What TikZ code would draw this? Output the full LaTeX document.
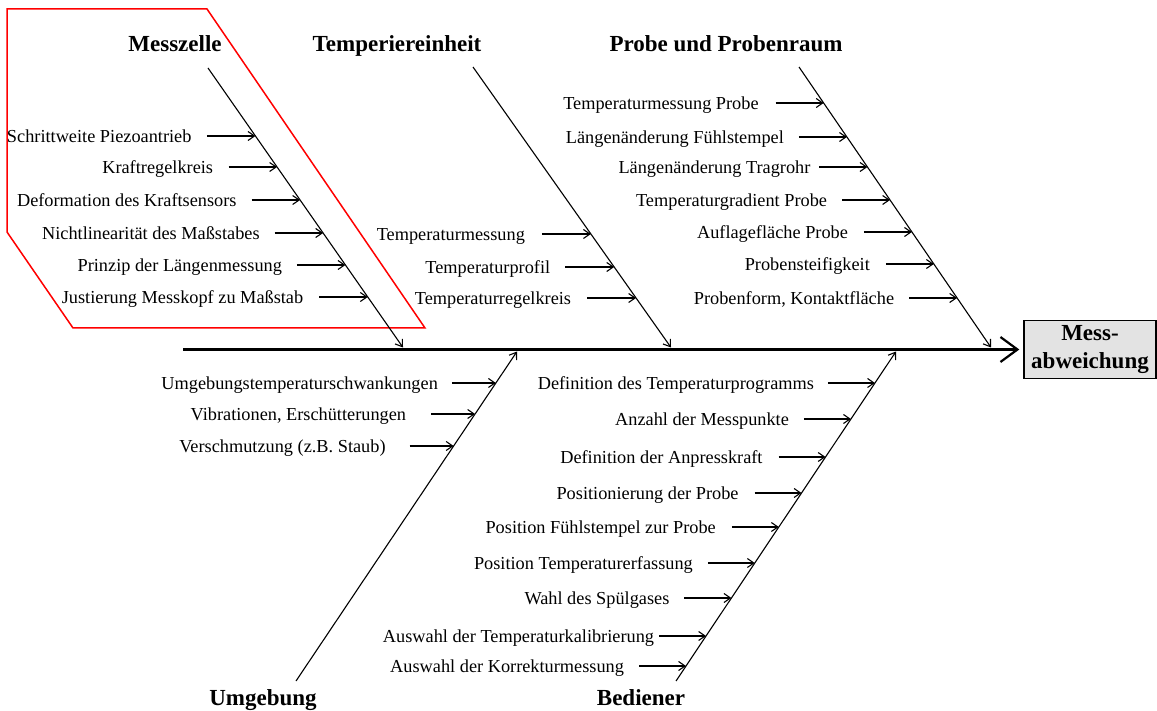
\documentclass[tikz,border=0pt]{standalone}
\usepackage{fontspec}
\setmainfont{Liberation Serif}
\usetikzlibrary{arrows.meta,intersections}

% causes along one branch: path name, arrow length, list of name/y/gap/text
\newcommand\fishcauses[3]{%
  \foreach \nm/\yy/\gp/\txt in {#3}{%
    \path[name path=hline] (0,\yy) -- (1157,\yy);
    \path[name intersections={of=#1 and hline, by={e\nm}}];
    \node[item, outer xsep=\gp pt] (\nm) at ([xshift=-#2 pt]e\nm) {\txt};
    \draw[cause] (\nm.east) -- (e\nm);
  }}

\begin{document}
\begin{tikzpicture}[x=1pt,y=-1pt,
  item/.style={font=\fontsize{18.3}{20}\selectfont, inner xsep=0pt, inner ysep=0pt,
    text height=14pt, text depth=1pt, anchor=east},
  head/.style={font=\fontsize{23}{28}\selectfont\bfseries, inner sep=0pt, anchor=base},
  cause/.style={line width=1.1pt, -{Straight Barb[length=6.5pt,width=9pt]}},
  branch/.style={line width=1.1pt, -{Straight Barb[length=6.5pt,width=9pt]}},
  spine/.style={line width=2.2pt, -{Straight Barb[length=17pt,width=25pt]}, shorten >=4pt},
  frame/.style={draw=red, line width=1.5pt, line join=miter},
  effect/.style={draw=black, line width=1.4pt, fill=black!11, minimum width=132pt,
    minimum height=58pt, align=center, inner sep=0pt,
    font=\fontsize{23}{28}\selectfont\bfseries},
]
\useasboundingbox (0,0) rectangle (1157,711);

% highlighted region around the measuring cell
\draw[frame] (7,9) -- (207,9) -- (425,328) -- (73,328) -- (7,232) -- cycle;

% effect box and main spine
\node[effect] (box) at (1090,349.5) {Mess-\\abweichung};
\coordinate (sp) at (183,349.5);
\draw[spine] (sp) -- (box.west);

% category headings
\node[head] (hMz) at (175,52) {Messzelle};
\node[head] (hTe) at (397,52) {Temperiereinheit};
\node[head] (hPr) at (726,52) {Probe und Probenraum};
\node[head] (hUm) at (263,705) {Umgebung};
\node[head] (hBe) at (641,705) {Bediener};

% branches
\coordinate (mzT) at (208,68);  \coordinate (mzE) at (403,347.5);
\coordinate (teT) at (473,67);  \coordinate (teE) at (671,347.5);
\coordinate (prT) at (799,67);  \coordinate (prE) at (991,347.5);
\coordinate (umT) at (296,681); \coordinate (umE) at (517,351.5);
\coordinate (beT) at (676,681); \coordinate (beE) at (896,351.5);
\draw[branch, name path=mz] (mzT) -- (mzE);
\draw[branch, name path=te] (teT) -- (teE);
\draw[branch, name path=pr] (prT) -- (prE);
\draw[branch, name path=um] (umT) -- (umE);
\draw[branch, name path=be] (beT) -- (beE);

% causes
\fishcauses{mz}{48.5}{%
  m1/136/15.5/Schrittweite Piezoantrieb,
  m2/167/15.5/Kraftregelkreis,
  m3/200/15/Deformation des Kraftsensors,
  m4/233/15/Nichtlinearität des Maßstabes,
  m5/265/15/Prinzip der Längenmessung,
  m6/297/16/Justierung Messkopf zu Maßstab}

\fishcauses{te}{49}{%
  t1/234/17/Temperaturmessung,
  t2/267/15/Temperaturprofil,
  t3/298/16/Temperaturregelkreis}

\fishcauses{pr}{48}{%
  p1/103/17/Temperaturmessung Probe,
  p2/137/15/Längenänderung Fühlstempel,
  p3/167/9/Längenänderung Tragrohr,
  p4/200/15/Temperaturgradient Probe,
  p5/232/16/Auflagefläche Probe,
  p6/264/16/Probensteifigkeit,
  p7/298/15/{Probenform, Kontaktfläche}}

\fishcauses{um}{44}{%
  u1/383/14/Umgebungstemperaturschwankungen,
  u2/414/25/{Vibrationen, Erschütterungen},
  u3/446/24/Verschmutzung (z.B. Staub)}

\fishcauses{be}{47}{%
  b1/383/14/Definition des Temperaturprogramms,
  b2/419/15/Anzahl der Messpunkte,
  b3/457/16/Definition der Anpresskraft,
  b4/493/16/Positionierung der Probe,
  b5/527/16/Position Fühlstempel zur Probe,
  b6/563/15/Position Temperaturerfassung,
  b7/598/15/Wahl des Spülgases,
  b8/636/5/Auswahl der Temperaturkalibrierung,
  b9/666/15/Auswahl der Korrekturmessung}
\end{tikzpicture}
\end{document}
